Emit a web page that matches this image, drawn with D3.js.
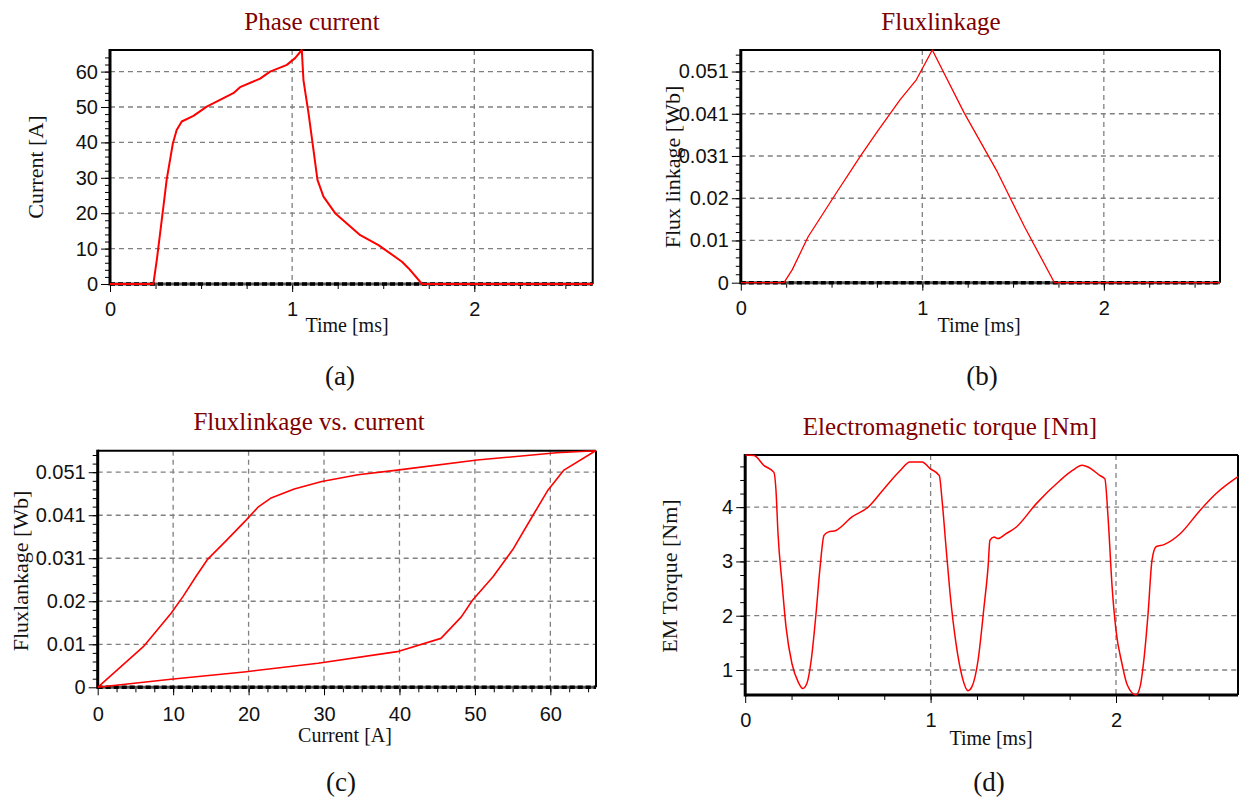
<!DOCTYPE html>
<html>
<head>
<meta charset="utf-8">
<script src="https://cdn.jsdelivr.net/npm/d3@7"></script>
<style>
  body { margin: 0; background: #fff; }
  svg { display: block; }
</style>
</head>
<body>
<script>
// ---- data ----
var phaseTime = [0, 0.238, 0.257, 0.293, 0.311, 0.345, 0.366, 0.394, 0.458, 0.531, 0.677, 0.714, 0.824, 0.879, 0.971, 1.016, 1.053,
                 1.062, 1.09, 1.117, 1.139, 1.172, 1.236, 1.374, 1.474, 1.603, 1.64, 1.713, 2.65];
var phaseCurrent = [0, 0, 6.8, 21.8, 29.4, 39.7, 43.5, 45.9, 47.5, 50.1, 53.9, 55.6, 58.0, 60.0, 61.9, 63.8, 66.1,
                    57.6, 48.2, 37.9, 29.4, 24.7, 20.0, 13.8, 11.0, 6.3, 4.4, 0, 0];

var fluxTime = [0, 0.238, 0.283, 0.371, 0.525, 0.658, 0.746, 0.878, 0.967, 1.055, 1.232, 1.408, 1.563, 1.728, 2.64];
var fluxValue = [0, 0, 0.0031, 0.0111, 0.0216, 0.0305, 0.0361, 0.0442, 0.049, 0.0562, 0.0409, 0.0272, 0.0135, 0, 0];

var loopCurrent = [0, 6.05, 9.73, 11.3, 13.0, 14.5, 17.1, 19.7, 21.3, 22.9, 26.05, 29.7, 34.5, 39.7, 50.3, 60.8, 66.0,
                   61.8, 59.7, 57.6, 55.0, 52.4, 49.7, 48.2, 45.5, 39.7, 29.2, 19.7, 9.7, 0];
var loopFlux = [0, 0.00963, 0.01755, 0.0215, 0.0262, 0.0302, 0.0349, 0.0397, 0.0428, 0.0448, 0.047, 0.0488, 0.0504, 0.0515, 0.0539, 0.0556, 0.0561,
                0.0515, 0.0468, 0.0405, 0.0326, 0.0262, 0.0207, 0.0167, 0.0116, 0.00845, 0.0057, 0.0037, 0.0019, 0];

var torqueTime = [0, 0.048, 0.10, 0.155, 0.166, 0.177, 0.199, 0.22, 0.252, 0.285, 0.311, 0.333, 0.356, 0.382, 0.404, 0.425, 0.447, 0.49,
                  0.576, 0.663, 0.749, 0.835, 0.889, 0.954, 0.997, 1.047, 1.062, 1.083, 1.105, 1.137, 1.17, 1.202, 1.223, 1.256,
                  1.288, 1.31, 1.32, 1.342, 1.364, 1.407, 1.461, 1.569, 1.698, 1.763, 1.817, 1.849, 1.914, 1.94, 1.957, 1.979,
                  2.0, 2.032, 2.061, 2.108, 2.13, 2.152, 2.173, 2.194, 2.216, 2.259, 2.346, 2.453, 2.54, 2.658];
var torqueValue = [4.96, 4.95, 4.77, 4.64, 4.31, 3.51, 2.59, 1.80, 1.12, 0.785, 0.66, 0.755, 1.18, 2.04, 2.90, 3.48, 3.54, 3.57,
                   3.82, 4.0, 4.34, 4.67, 4.83, 4.83, 4.71, 4.58, 4.12, 3.27, 2.41, 1.49, 0.877, 0.62, 0.693, 1.18,
                   2.16, 2.90, 3.39, 3.45, 3.42, 3.51, 3.63, 4.06, 4.49, 4.67, 4.77, 4.74, 4.58, 4.52, 3.82, 2.53,
                   1.73, 1.12, 0.724, 0.54, 0.693, 1.24, 2.04, 3.02, 3.27, 3.31, 3.51, 3.94, 4.25, 4.56];

// ticks
var timeTicks = [0, 1, 2];
var currentTicks = [0, 10, 20, 30, 40, 50, 60];
var fluxTicks = [0, 0.0102, 0.0204, 0.0306, 0.0408, 0.051];
var fluxTickLabels = ["0", "0.01", "0.02", "0.031", "0.041", "0.051"];
var torqueTicks = [1, 2, 3, 4];

var svg = d3.select("body").append("svg")
    .attr("width", 1251)
    .attr("height", 801);

var serif = "'Liberation Serif', 'Times New Roman', serif",
    sans = "'Liberation Sans', Arial, sans-serif",
    titleColor = "#800000";

var idx = 0;

function panel(p) {
  idx++;
  var x = d3.scaleLinear().domain(p.xDomain).range([p.left, p.right]),
      y = d3.scaleLinear().domain(p.yDomain).range([p.bottom, p.top]);
  var g = svg.append("g");

  // grid
  g.selectAll(".gx").data(p.xTicks.filter(function(d) { return d > p.xDomain[0]; }))
    .enter().append("line")
      .attr("x1", function(d) { return x(d); }).attr("x2", function(d) { return x(d); })
      .attr("y1", p.top).attr("y2", p.bottom)
      .attr("stroke", "#808080").attr("stroke-width", 1.3).attr("stroke-dasharray", "5,4");
  g.selectAll(".gy").data(p.yTicks.filter(function(d) { return d > p.yDomain[0]; }))
    .enter().append("line")
      .attr("y1", function(d) { return y(d); }).attr("y2", function(d) { return y(d); })
      .attr("x1", p.left).attr("x2", p.right)
      .attr("stroke", "#808080").attr("stroke-width", 1.3).attr("stroke-dasharray", "5,4");

  // minor ticks
  var ax = g.append("g").attr("transform", "translate(0," + p.bottom + ")")
      .call(d3.axisBottom(x).tickValues(p.xMinor).tickSize(5).tickFormat(""));
  var ay = g.append("g").attr("transform", "translate(" + p.left + ",0)")
      .call(d3.axisLeft(y).tickValues(p.yMinor).tickSize(5).tickFormat(""));
  // major ticks
  var bx = g.append("g").attr("transform", "translate(0," + p.bottom + ")")
      .call(d3.axisBottom(x).tickValues(p.xTicks).tickSize(8).tickFormat(p.xFormat || d3.format("d")));
  var by = g.append("g").attr("transform", "translate(" + p.left + ",0)")
      .call(d3.axisLeft(y).tickValues(p.yTicks).tickSize(9).tickFormat(p.yFormat || d3.format("d")));
  [ax, ay, bx, by].forEach(function(a) {
    a.select(".domain").remove();
    a.selectAll("line").attr("stroke", "#000");
  });
  bx.selectAll("text").attr("y", p.xLabelDy).attr("dy", 0)
    .style("font-family", sans).style("font-size", "20px").attr("fill", "#111");
  by.selectAll("text").attr("x", -12)
    .style("font-family", sans).style("font-size", "20px").attr("fill", "#111");

  // frame
  g.append("line").attr("x1", p.left).attr("x2", p.right).attr("y1", p.top).attr("y2", p.top)
    .attr("stroke", "#000").attr("stroke-width", 2);
  g.append("line").attr("x1", p.right).attr("x2", p.right).attr("y1", p.top).attr("y2", p.bottom)
    .attr("stroke", "#000").attr("stroke-width", 2);
  g.append("line").attr("x1", p.left).attr("x2", p.right).attr("y1", p.bottom).attr("y2", p.bottom)
    .attr("stroke", p.zeroDash ? "#555" : "#000").attr("stroke-width", 3);
  if (p.zeroDash) {
    g.append("line").attr("x1", p.left).attr("x2", p.right).attr("y1", p.bottom).attr("y2", p.bottom)
      .attr("stroke", "#000").attr("stroke-width", 3.5).attr("stroke-dasharray", "5,3");
  }
  g.append("line").attr("x1", p.left).attr("x2", p.left).attr("y1", p.top - 1).attr("y2", p.bottom + 1.5)
    .attr("stroke", "#000").attr("stroke-width", 3);

  // series
  svg.append("clipPath").attr("id", "clip" + idx).append("rect")
    .attr("x", p.left).attr("y", p.top - 2).attr("width", p.right - p.left + 2).attr("height", p.bottom - p.top + 4);
  var pts = p.xs.map(function(d, i) { return [d, p.ys[i]]; });
  g.append("path")
    .attr("clip-path", "url(#clip" + idx + ")")
    .attr("d", d3.line().curve(p.curve || d3.curveLinear)
      .x(function(d) { return x(d[0]); })
      .y(function(d) { return y(d[1]); })(pts))
    .attr("fill", "none").attr("stroke", "#ff0000").attr("stroke-width", p.lineWidth)
    .attr("stroke-linejoin", "round");

  // texts
  g.append("text").attr("x", p.titleX).attr("y", p.titleY).attr("text-anchor", "middle")
    .style("font-family", serif).style("font-size", "25px").attr("fill", titleColor).text(p.title);
  g.append("text").attr("x", p.xTitleX).attr("y", p.xTitleY).attr("text-anchor", "middle")
    .style("font-family", serif).style("font-size", "20px").attr("fill", "#111").text(p.xTitle);
  g.append("text")
    .attr("transform", "translate(" + p.yTitleX + "," + p.yTitleY + ") rotate(-90)")
    .attr("text-anchor", "middle").attr("dy", "0.35em")
    .style("font-family", serif).style("font-size", "22px").attr("fill", "#111").text(p.yTitle);
  g.append("text").attr("x", p.subX).attr("y", p.subY).attr("text-anchor", "middle")
    .style("font-family", serif).style("font-size", "27px").attr("fill", "#111").text(p.sub);
}

var fluxFormat = function(d, i) { return fluxTickLabels[i]; };

panel({
  left: 110, right: 592.7, top: 50, bottom: 284,
  xDomain: [0, 2.65], yDomain: [0, 66.1],
  xTicks: timeTicks, xMinor: d3.range(0.25, 2.65, 0.25),
  yTicks: currentTicks, yMinor: d3.range(2, 66, 2),
  xLabelDy: 32, zeroDash: true,
  xs: phaseTime, ys: phaseCurrent, lineWidth: 2,
  title: "Phase current", titleX: 312, titleY: 30,
  xTitle: "Time [ms]", xTitleX: 347, xTitleY: 332,
  yTitle: "Current [A]", yTitleX: 35, yTitleY: 167,
  sub: "(a)", subX: 340, subY: 385
});

panel({
  left: 740.8, right: 1220, top: 50, bottom: 282.7,
  xDomain: [0, 2.64], yDomain: [0, 0.0562],
  xTicks: timeTicks, xMinor: d3.range(0.25, 2.64, 0.25),
  yTicks: fluxTicks, yMinor: d3.range(0.00204, 0.056, 0.00204), yFormat: fluxFormat,
  xLabelDy: 32, zeroDash: true,
  xs: fluxTime, ys: fluxValue, lineWidth: 1.3,
  title: "Fluxlinkage", titleX: 941, titleY: 30,
  xTitle: "Time [ms]", xTitleX: 979, xTitleY: 332,
  yTitle: "Flux linkage [Wb]", yTitleX: 672, yTitleY: 167,
  sub: "(b)", subX: 982, subY: 385
});

panel({
  left: 97.7, right: 596, top: 450.7, bottom: 687.3,
  xDomain: [0, 66.05], yDomain: [0, 0.0561],
  xTicks: currentTicks, xMinor: d3.range(2.5, 66, 2.5),
  yTicks: fluxTicks, yMinor: d3.range(0.00204, 0.056, 0.00204), yFormat: fluxFormat,
  xLabelDy: 34, zeroDash: true,
  xs: loopCurrent, ys: loopFlux, lineWidth: 1.6,
  title: "Fluxlinkage vs. current", titleX: 309, titleY: 430,
  xTitle: "Current [A]", xTitleX: 345, xTitleY: 742,
  yTitle: "Fluxlankage [Wb]", yTitleX: 20, yTitleY: 571,
  sub: "(c)", subX: 341, subY: 791
});

panel({
  left: 745.2, right: 1238, top: 455, bottom: 695,
  xDomain: [0, 2.658], yDomain: [0.54, 4.96],
  xTicks: timeTicks, xMinor: d3.range(0.25, 2.658, 0.25),
  yTicks: torqueTicks, yMinor: d3.range(0.75, 4.95, 0.25),
  xLabelDy: 32, zeroDash: false,
  xs: torqueTime, ys: torqueValue, lineWidth: 1.5, curve: d3.curveMonotoneX,
  title: "Electromagnetic torque [Nm]", titleX: 950, titleY: 435,
  xTitle: "Time [ms]", xTitleX: 991, xTitleY: 745,
  yTitle: "EM Torque [Nm]", yTitleX: 669, yTitleY: 576,
  sub: "(d)", subX: 989, subY: 791
});
</script>
</body>
</html>
